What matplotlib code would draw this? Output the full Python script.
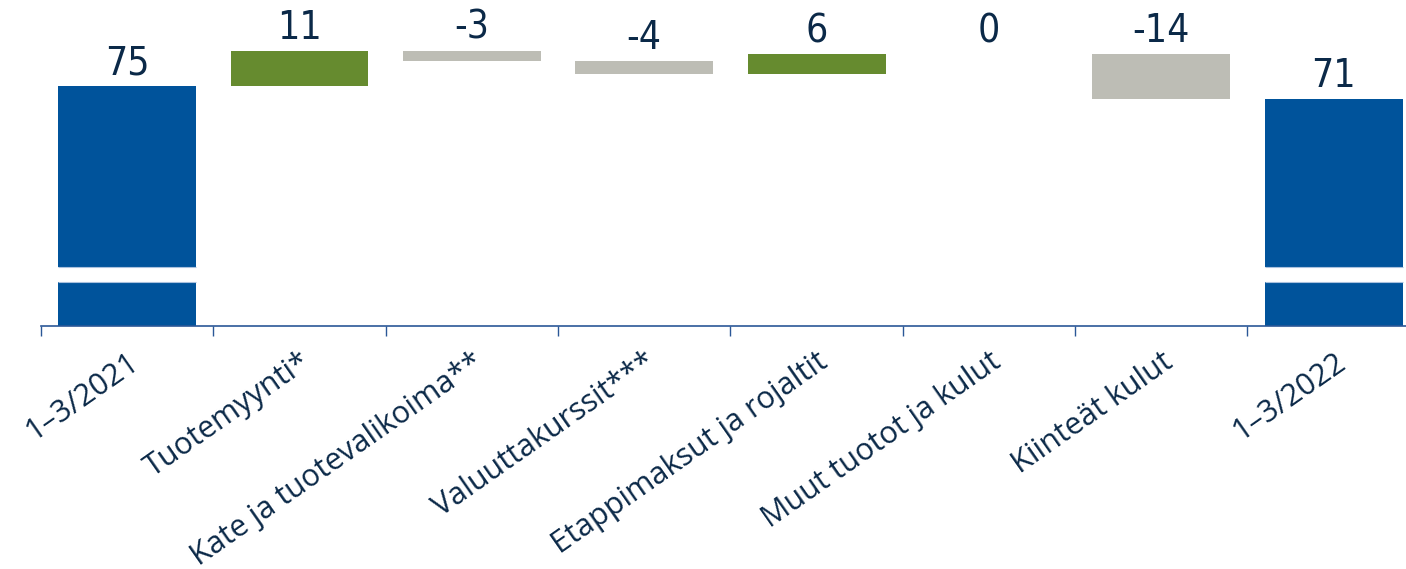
import numpy as np
import matplotlib
matplotlib.use('Agg')
from matplotlib import pyplot as plt

# waterfall data (MEUR)
categories = ['1–3/2021', 'Tuotemyynti*', 'Kate ja tuotevalikoima**',
              'Valuuttakurssit***', 'Etappimaksut ja rojaltit',
              'Muut tuotot ja kulut', 'Kiinteät kulut', '1–3/2022']
start_value = 75
changes = [11, -3, -4, 6, 0, -14]
end_value = 71
value_labels = ['75', '11', '-3', '-4', '6', '0', '-14', '71']

BLUE = '#00539B'
GREEN = '#668B2F'
GREY = '#BDBDB5'
TEXT = '#0B2948'
AXIS = '#2B5797'

plt.rcParams['font.family'] = ['Open Sans', 'DejaVu Sans']

fig = plt.figure(figsize=(14.06, 5.69), dpi=100)
ax = fig.add_axes([41 / 1406, 1 - 326 / 569, 1365 / 1406, 326 / 569])

x = np.arange(len(categories))
width = 0.8

# build bottoms / heights for the waterfall
bottoms = [0]
heights = [start_value]
colors = [BLUE]
level = start_value
for c in changes:
  if c >= 0:
    bottoms.append(level)
  else:
    bottoms.append(level + c)
  heights.append(abs(c))
  colors.append(GREEN if c > 0 else GREY)
  level += c
bottoms.append(0)
heights.append(end_value)
colors.append(BLUE)

ax.bar(x, heights, width, bottom=bottoms, color=colors, zorder=2)

# decorative axis break on the total bars
for i in (0, len(categories) - 1):
  ax.bar(x[i], 4.7, width + 0.02, bottom=13.8, color='white', zorder=3)
  ax.hlines([13.8, 18.5], x[i] - width / 2, x[i] + width / 2,
            color='#A9C1DE', linewidth=0.8, zorder=4)

# value labels above each bar
for i in range(len(categories)):
  top = bottoms[i] + heights[i]
  ax.annotate(value_labels[i], (x[i], top), xytext=(0, 3),
              textcoords='offset points', ha='center', va='bottom',
              fontsize=28, color=TEXT, fontstretch='condensed',
              family=['DejaVu Sans'])

ax.set_xlim(-0.5, 7.42)
ax.set_ylim(0, 102)

for s in ('top', 'right', 'left'):
  ax.spines[s].set_visible(False)
ax.spines['bottom'].set_color(AXIS)
ax.spines['bottom'].set_linewidth(1.2)
ax.set_yticks([])

ax.set_xticks(x)
ax.set_xticks(np.arange(-0.5, 7, 1), minor=True)
ax.tick_params(axis='x', which='minor', length=7, width=1, color=AXIS,
               direction='out')
ax.tick_params(axis='x', which='major', length=0, pad=15)
ax.set_xticklabels(categories, rotation=35, ha='right', va='top',
                   rotation_mode='anchor', fontsize=22, color=TEXT)

fig.savefig('out.png', dpi=100)
